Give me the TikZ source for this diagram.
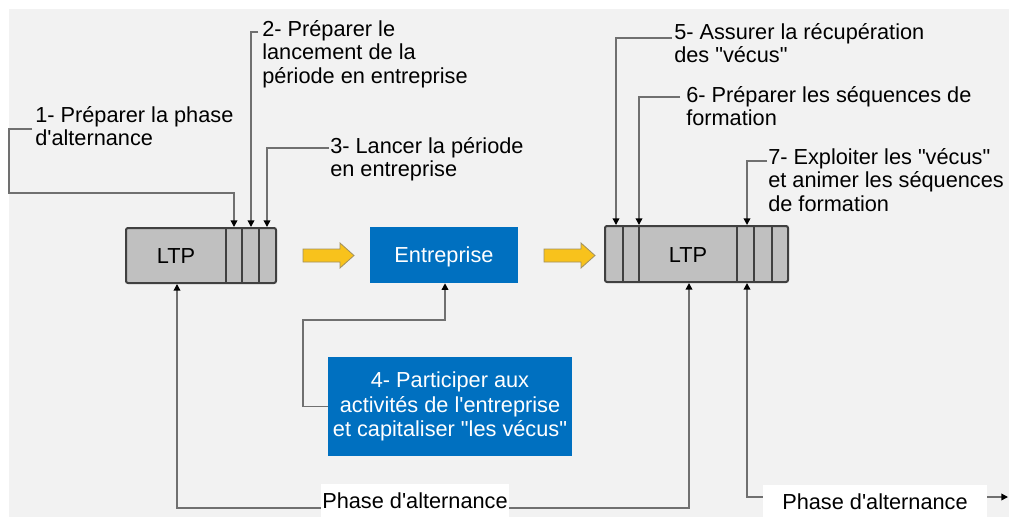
\documentclass[tikz,border=0pt]{standalone}
\usepackage{fontspec}
\setmainfont{Liberation Sans}
\usetikzlibrary{arrows.meta,calc}
\definecolor{bg}{HTML}{F2F2F2}
\definecolor{ltpfill}{HTML}{C0C0C0}
\definecolor{ltpline}{HTML}{404040}
\definecolor{blu}{HTML}{0070C0}
\definecolor{yel}{HTML}{F8C21C}
\definecolor{yelline}{HTML}{A09060}
\definecolor{linegray}{HTML}{707070}
\newcommand{\dq}{\textquotedbl}
\newcommand{\sq}{\textquotesingle}
\begin{document}
\begin{tikzpicture}[x=0.75pt,y=-0.75pt,
  font=\fontsize{16.3}{17.6}\selectfont,
  conn/.style={draw=linegray, line width=1.1pt},
  tipped/.style={conn, -{Triangle[width=5pt,length=5pt,color=black]}},
  ltpbox/.style={draw=ltpline, fill=ltpfill, line width=1.5pt, rounded corners=1.5pt, inner sep=0pt},
  divider/.style={draw=ltpline, line width=1.5pt},
  bluebox/.style={fill=blu, text=white, inner sep=0pt, align=center},
  lab/.style={anchor=north west, inner sep=0pt, align=left, text=black},
  phasebox/.style={fill=white, inner sep=0pt, text=black},
  yarrow/.style={fill=yel, draw=yelline, line width=0.6pt}]
\useasboundingbox (0,0) rectangle (1009,518);
\fill[white] (0,0) rectangle (1009,518);
\fill[bg] (9,9) rectangle (1009,517);

% main boxes
\node[ltpbox, minimum width=112.5pt, minimum height=41.25pt] (ltp1) at (201,255.5) {};
\draw[divider] (226,228) -- (226,283) (242,228) -- (242,283) (259,228) -- (259,283);
\node[inner sep=0pt] (ltp1t) at (176,256) {LTP};

\node[ltpbox, minimum width=137.25pt, minimum height=42pt] (ltp2) at (696.5,254) {};
\draw[divider] (623,226) -- (623,282) (639,226) -- (639,282) (737,226) -- (737,282)
  (754,226) -- (754,282) (772,226) -- (772,282);
\node[inner sep=0pt] (ltp2t) at (688,255) {LTP};

\node[bluebox, minimum width=111pt, minimum height=42pt, text depth=0pt] (ent) at (444,255) {Entreprise};
\node[bluebox, minimum width=183pt, minimum height=74.25pt,
  font=\fontsize{16.3}{18.6}\selectfont] (box4) at (450,406.5)
  {4- Participer aux\\activités de l\sq entreprise\\et capitaliser \dq les vécus\dq};

% yellow arrows
\fill[yarrow] (303,249) -- (340,249) -- (340,243) -- (354,255.5) -- (340,268) -- (340,262) -- (303,262) -- cycle;
\fill[yarrow] (544,249) -- (581,249) -- (581,243) -- (595,255.5) -- (581,268) -- (581,262) -- (544,262) -- cycle;

% labels
\node[lab] (lab1) at (35,106) {1- Préparer la phase\\d\sq alternance};
\node[lab] (lab2) at (262,20) {2- Préparer le\\lancement de la\\période en entreprise};
\node[lab] (lab3) at (330,137) {3- Lancer la période\\en entreprise};
\node[lab] (lab5) at (674,23) {5- Assurer la récupération\\des \dq vécus\dq};
\node[lab] (lab6) at (686,86) {6- Préparer les séquences de\\formation};
\node[lab] (lab7) at (768,148) {7- Exploiter les \dq vécus\dq\\et animer les séquences\\de formation};

\node[phasebox, minimum width=141pt, minimum height=25.5pt] (ph1) at (415,501) {Phase d\sq alternance};
\node[phasebox, minimum width=168pt, minimum height=24.75pt] (ph2) at (875,501.5) {Phase d\sq alternance};

% x positions for connectors
\coordinate (x1) at (234,0);
\coordinate (x2) at (251,0);
\coordinate (x3) at (267,0);
\coordinate (x5) at (616,0);
\coordinate (x6) at (639,0);
\coordinate (x7) at (747,0);
\coordinate (xb1) at (177,0);
\coordinate (xb2) at (689,0);
\coordinate (xe) at (445,0);
\coordinate (end) at (1008,497);

% top connectors
\draw[tipped] ($(lab1.north west)+(-3,23)$) -- (9,129) -- (9,193) -- (234,193) -- (x1 |- ltp1.north);
\draw[tipped] ($(lab2.north west)+(-4,12)$) -| (x2 |- ltp1.north);
\draw[tipped] ($(lab3.north west)+(-1,11)$) -| (x3 |- ltp1.north);
\draw[tipped] ($(lab5.north west)+(-2,15)$) -| (x5 |- ltp2.north);
\draw[tipped] ($(lab6.north west)+(-6,11)$) -| (x6 |- ltp2.north);
\draw[tipped] ($(lab7.north west)+(-1,13)$) -| (x7 |- ltp2.north);

% bottom connectors
\draw[tipped] ($(ph1.west)+(0,7)$) -| (xb1 |- ltp1.south);
\draw[tipped] ($(ph1.east)+(0,7)$) -| (xb2 |- ltp2.south);
\draw[tipped] (box4.west) -- (303,406.5) -- (303,320) -| (xe |- ent.south);
\draw[tipped] ($(ph2.west)+(0,-4.5)$) -| (x7 |- ltp2.south);
\draw[tipped] ($(ph2.east)+(0,-4.5)$) -- (end);
\end{tikzpicture}
\end{document}
